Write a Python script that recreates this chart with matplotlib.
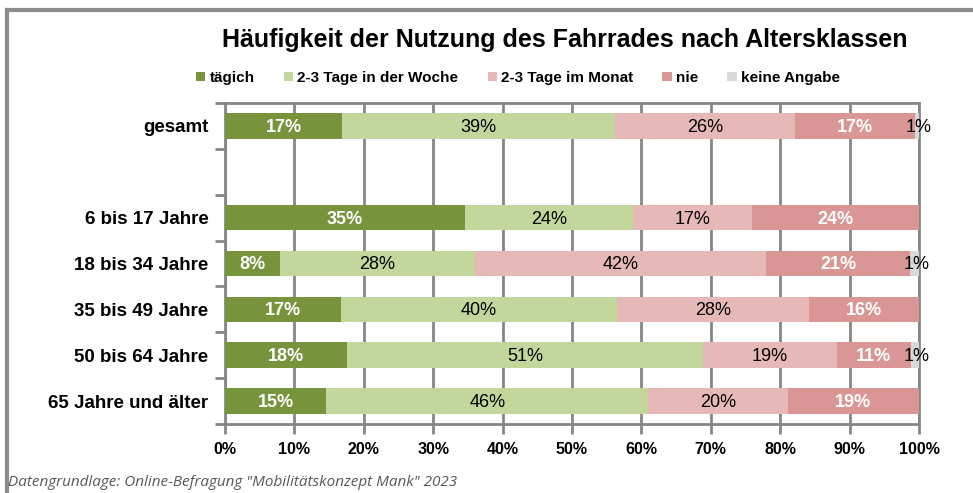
import matplotlib
matplotlib.use("Agg")
import matplotlib.pyplot as plt
from matplotlib.lines import Line2D
from matplotlib import font_manager
import numpy as np

# categories (the empty one is the gap below "gesamt")
categories = ["gesamt", "", "6 bis 17 Jahre", "18 bis 34 Jahre", "35 bis 49 Jahre",
              "50 bis 64 Jahre", "65 Jahre und älter"]
series = ["tägich", "2-3 Tage in der Woche", "2-3 Tage im Monat", "nie", "keine Angabe"]
colors = ["#77933C", "#C3D69B", "#E6B9B8", "#D99694", "#D9D9D9"]

# shares in percent, one list per series (None = empty slot)
taeglich = [16.9, None, 34.6, 7.9, 16.7, 17.6, 14.6]
woche = [39.3, None, 24.2, 28.1, 39.8, 51.3, 46.4]
monat = [25.9, None, 17.1, 42.0, 27.6, 19.3, 20.1]
nie = [17.3, None, 24.1, 20.7, 15.9, 10.6, 18.9]
keine = [0.6, None, 0.0, 1.3, 0.0, 1.2, 0.0]

xticks = [0, 10, 20, 30, 40, 50, 60, 70, 80, 90, 100]

# label style per series: (colour, weight)
label_style = [("white", "bold"), ("black", "normal"), ("black", "normal"),
               ("white", "bold"), ("black", "normal")]

names = [f.name for f in font_manager.fontManager.ttflist]
title_font = "Liberation Sans Narrow" if "Liberation Sans Narrow" in names else "Liberation Sans"
plt.rcParams["font.family"] = ["Liberation Sans", "DejaVu Sans"]

gray = "#868686"
fig = plt.figure(figsize=(9.73, 4.93), dpi=100)
ax = fig.add_axes([225 / 973, 1 - 424 / 493, 694 / 973, 321 / 493])

data = [taeglich, woche, monat, nie, keine]
y = np.arange(len(categories))
left = np.zeros(len(categories))
for s, (vals, col, name) in enumerate(zip(data, colors, series)):
    for i, v in enumerate(vals):
        if v is None:
            continue
        ax.barh(y[i], v, left=left[i], height=0.56, color=col, zorder=3,
                label=name if i == 0 else None)
        if v > 0:
            tc, tw = label_style[s]
            xc = left[i] + v / 2
            if s == 4:
                xc = left[i] + v / 2 + 0.3
            ax.text(xc, y[i] + 0.03, f"{v:.0f}%", ha="center", va="center",
                    color=tc, fontweight=tw, fontsize=13, zorder=4)
        left[i] += v

ax.set_xlim(0, 100)
ax.set_ylim(len(categories) - 0.5, -0.5)
ax.set_xticks(xticks)
ax.set_xticklabels([f"{t}%" for t in xticks], fontweight="bold", fontsize=11.5)
ax.set_yticks(y)
ax.set_yticklabels(categories, fontweight="bold", fontsize=13.5)
ax.set_yticks(np.arange(-0.5, len(categories)), minor=True)
ax.tick_params(axis="y", which="major", length=0, pad=12)
ax.tick_params(axis="y", which="minor", length=7, width=2, color=gray)
ax.tick_params(axis="x", length=7, width=2, color=gray, pad=6)
ax.grid(axis="x", color=gray, linewidth=2, zorder=0)
ax.set_axisbelow(True)
for sp in ax.spines.values():
    sp.set_color(gray)
    sp.set_linewidth(2)

fig.text(565 / 973, 1 - 40 / 493, "Häufigkeit der Nutzung des Fahrrades nach Altersklassen",
         ha="center", va="center", fontsize=18, fontweight="bold", family=title_font)

handles, labels = ax.get_legend_handles_labels()
fig.legend(handles, labels, loc="center", bbox_to_anchor=(518 / 973, 1 - 78 / 493),
           ncol=5, frameon=False, handlelength=0.6, handleheight=0.6,
           handletextpad=0.3, columnspacing=1.9, prop={"weight": "bold", "size": 11})

fig.text(8 / 973, 1 - 483 / 493,
         'Datengrundlage: Online-Befragung "Mobilitätskonzept Mank" 2023',
         ha="left", va="center", fontsize=11, style="italic", color="#595959",
         family="Open Sans")

# outer frame of the chart area
fig.add_artist(Line2D([6.5 / 973, 1.0], [1 - 9.5 / 493] * 2, transform=fig.transFigure,
                      color="#8c8c8c", linewidth=3))
fig.add_artist(Line2D([6.5 / 973] * 2, [0.0, 1 - 9.5 / 493], transform=fig.transFigure,
                      color="#8c8c8c", linewidth=3))

fig.savefig("out.png", dpi=100)
